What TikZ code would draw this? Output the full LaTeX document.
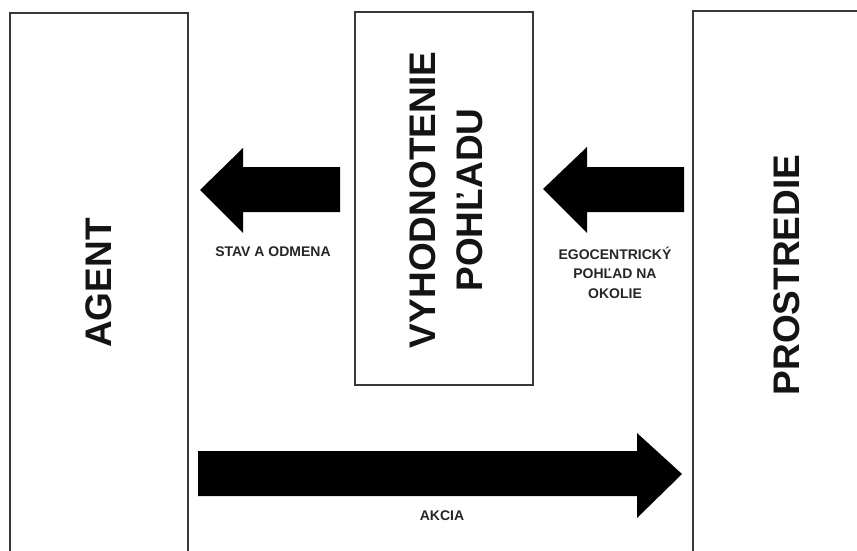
\documentclass[tikz,border=0pt]{standalone}
\usepackage{fontspec}
\setmainfont{Liberation Sans}
\begin{document}
\begin{tikzpicture}[x=1pt,y=-1pt,
  panel/.style={draw=black!78,line width=1.5pt,fill=none},
  bigtxt/.style={font=\fontsize{37}{47}\selectfont\bfseries,rotate=90,align=center,text=black!92},
  smalltxt/.style={font=\fontsize{14}{19.5}\selectfont\bfseries,align=center,text=black!85},
  blockarrow/.style={fill=black,draw=none}]
\useasboundingbox (0,0) rectangle (857,551);
\begin{scope}
\clip (0,0) rectangle (857,551);
% panels
\draw[panel] (10,13) rectangle (188,570);
\coordinate (agentc) at (99,283);
\draw[panel] (693,11) rectangle (880,570);
\coordinate (envc) at (787,275);
\node[panel,minimum width=178pt,minimum height=373pt,inner sep=0pt] (evalbox) at (444,198.5) {};
\end{scope}
\node[bigtxt] (agent) at (agentc) {AGENT};
\node[bigtxt] (env) at (envc) {PROSTREDIE};
\node[bigtxt] (eval) at (446.5,200) {VYHODNOTENIE\\POHĽADU};
% block arrows
\fill[blockarrow] (340,167) -- (243,167) -- (243,148) -- (200,190) -- (243,233) -- (243,212) -- (340,212) -- cycle;
\fill[blockarrow] (684,167) -- (587,167) -- (587,147) -- (543,189) -- (587,233) -- (587,212) -- (684,212) -- cycle;
\fill[blockarrow] (198,451) -- (637,451) -- (637,433) -- (682,474) -- (637,518) -- (637,496) -- (198,496) -- cycle;
% labels
\node[smalltxt] (lstav) at (273,252) {STAV A ODMENA};
\node[smalltxt] (lego) at (615,272.5) {EGOCENTRICKÝ\\POHĽAD NA\\OKOLIE};
\node[smalltxt] (lakcia) at (442,516) {AKCIA};
\end{tikzpicture}
\end{document}
